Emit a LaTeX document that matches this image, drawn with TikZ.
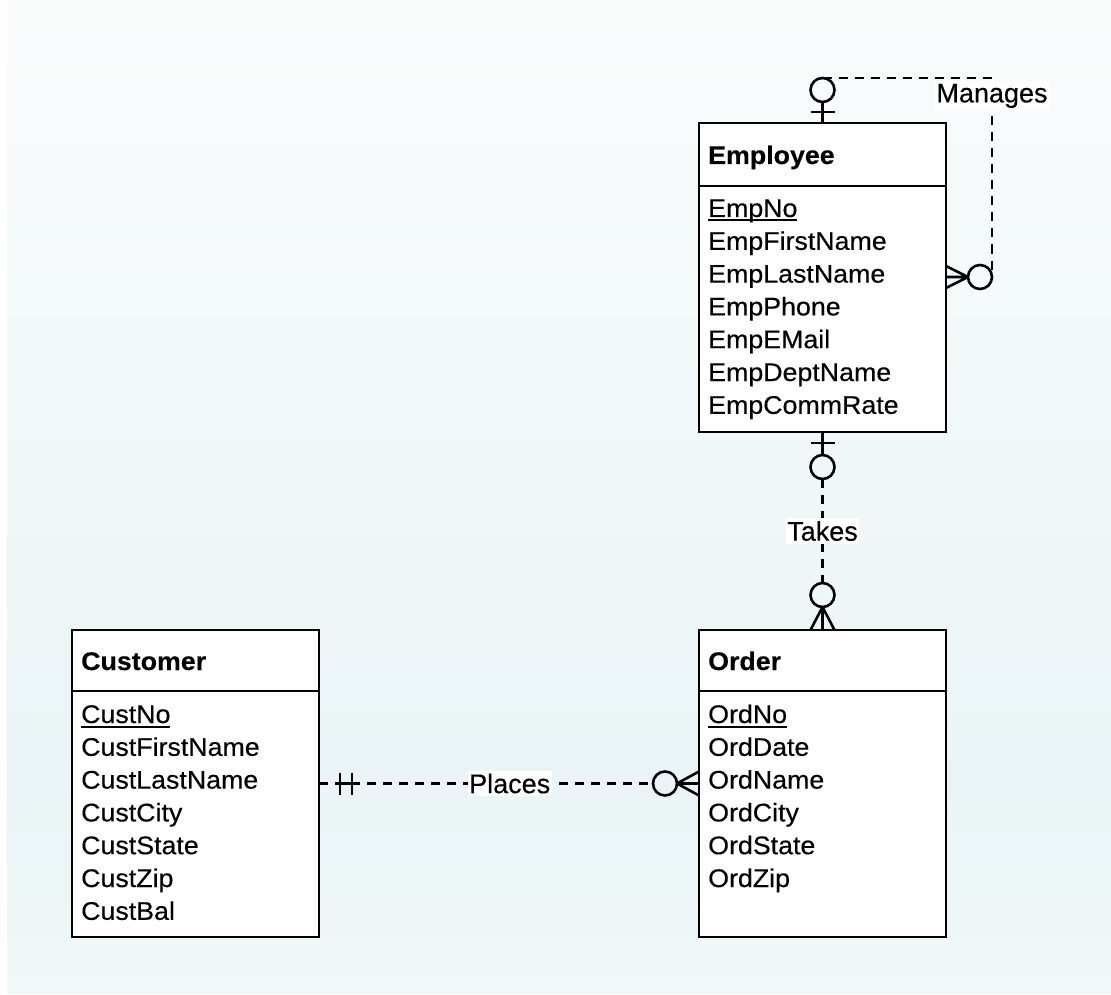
\documentclass[tikz,border=0pt]{standalone}
\usepackage{fontspec}
\setmainfont{Liberation Sans}[FakeBold=0.3]
\newfontfamily\entfont{Liberation Sans}[FakeStretch=1.05, FakeBold=0.3]
\usetikzlibrary{calc}

\definecolor{bgtop}{HTML}{FAFCFC}
\definecolor{bgmid}{HTML}{EAF4F6}
\definecolor{bgbot}{HTML}{F0F8F8}

% primary key: underlined attribute name
\newcommand\pkey[1]{\setbox0=\hbox{#1}\rlap{\rule[-4.5pt]{\wd0}{2pt}}\box0}

\begin{document}
\begin{tikzpicture}[x=1pt,y=-1pt,
  entity/.style={draw, rectangle, line width=2.6pt, fill=white,
    minimum width=247pt, inner sep=0pt, outer sep=0pt},
  attr/.style={anchor=base west, inner sep=0pt,
    font=\entfont\fontsize{25.5}{30}\selectfont},
  etitle/.style={anchor=base west, inner sep=0pt,
    font=\entfont\bfseries\fontsize{25.5}{30}\selectfont},
  link/.style={line width=2.6pt},
  rel/.style={line width=2.6pt, dash pattern=on 9pt off 7pt},
  opt/.style={circle, draw, line width=2.6pt, minimum size=24pt,
    inner sep=0pt, outer sep=0pt},
  rlabel/.style={fill=white, inner xsep=1.5pt, inner ysep=3pt,
    font=\fontsize{27}{30}\selectfont}]

\useasboundingbox (0,0) rectangle (1111,995);
\fill[white] (0,0) rectangle (1111,995);
\shade[top color=bgtop, bottom color=bgmid] (7,0) rectangle (1111,780.5);
\shade[top color=bgmid, bottom color=bgbot] (7,780) rectangle (1111,993);

% ---------- entities ----------
\node[entity, minimum height=309pt] (emp) at (822.5,277.5) {};
\draw[link] ([yshift=-63pt]emp.north west) -- ([yshift=-63pt]emp.north east);
\node[etitle] (emp-t) at (708,164) {Employee};
\node[attr] (emp-a0) at (708,217) {\pkey{EmpNo}};
\foreach \t [count=\i] in {EmpFirstName,EmpLastName,EmpPhone,EmpEMail,EmpDeptName,EmpCommRate}
  \node[attr] (emp-a\i) at (708,217+32.8*\i) {\t};

\node[entity, minimum height=307pt] (ord) at (822.5,783.5) {};
\draw[link] ([yshift=-61pt]ord.north west) -- ([yshift=-61pt]ord.north east);
\node[etitle] (ord-t) at (708,670) {Order};
\node[attr] (ord-a0) at (708,723) {\pkey{OrdNo}};
\foreach \t [count=\i] in {OrdDate,OrdName,OrdCity,OrdState,OrdZip}
  \node[attr] (ord-a\i) at (708,723+32.8*\i) {\t};

\node[entity, minimum height=307pt] (cust) at (195.5,783.5) {};
\draw[link] ([yshift=-61pt]cust.north west) -- ([yshift=-61pt]cust.north east);
\node[etitle] (cust-t) at (81,670) {Customer};
\node[attr] (cust-a0) at (81,723) {\pkey{CustNo}};
\foreach \t [count=\i] in {CustFirstName,CustLastName,CustCity,CustState,CustZip,CustBal}
  \node[attr] (cust-a\i) at (81,723+32.8*\i) {\t};

% ---------- Manages (Employee to Employee) ----------
\node[opt] (m1) at (822.5,90) {};
\node[opt] (m2) at (980,277) {};
\draw[link] (emp.north) -- (m1.south);
\draw[link] ($(emp.north)+(-12,-11)$) -- ($(emp.north)+(12,-11)$);
\draw[rel] (m1.north) -| node[rlabel, pos=0.545] {Manages} (m2.east);
\draw[link] (m2.west) -- ($(emp.east |- m2.west)+(0,-11)$)
            (m2.west) -- (emp.east |- m2.west)
            (m2.west) -- ($(emp.east |- m2.west)+(0,11)$);

% ---------- Takes (Employee to Order) ----------
\node[opt] (t1) at (822.5,467) {};
\node[opt] (t2) at (822.5,595) {};
\draw[link] (emp.south) -- (t1.north);
\draw[link] ($(emp.south)+(-12,11)$) -- ($(emp.south)+(12,11)$);
\draw[rel] (t1.south) -- node[rlabel] {Takes} (t2.north);
\draw[link] (t2.south) -- ($(ord.north)+(-12,0)$)
            (t2.south) -- (ord.north)
            (t2.south) -- ($(ord.north)+(12,0)$);

% ---------- Places (Customer to Order) ----------
\node[opt] (p1) at (665,783.5) {};
\draw[rel] (cust.east) -- node[rlabel, pos=0.571] {Places} (p1.west);
\draw[link] ($(cust.east)+(17,0)$) -- ($(cust.east)+(36,0)$);
\draw[link] ($(cust.east)+(21,-11)$) -- ($(cust.east)+(21,11)$);
\draw[link] ($(cust.east)+(33,-11)$) -- ($(cust.east)+(33,11)$);
\draw[link] (p1.east) -- ($(ord.west |- p1.east)+(0,-12)$)
            (p1.east) -- (ord.west |- p1.east)
            (p1.east) -- ($(ord.west |- p1.east)+(0,12)$);
\end{tikzpicture}
\end{document}
